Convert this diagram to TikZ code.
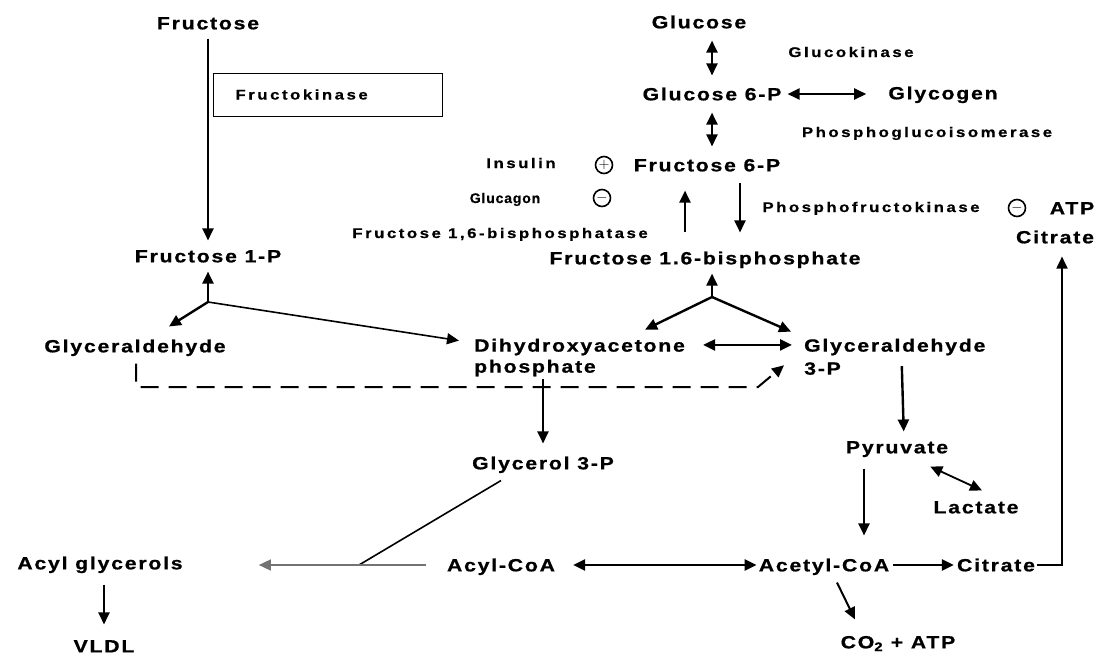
\documentclass[tikz,border=0pt]{standalone}
\usepackage{fontspec}
\usetikzlibrary{arrows.meta,calc}
\newfontfamily\lblfont{Liberation Sans}[FakeStretch=1.2,LetterSpace=10,BoldFeatures={FakeBold=0.8}]
\newfontfamily\enzfont{Liberation Sans}[FakeStretch=1.2,LetterSpace=18,BoldFeatures={FakeBold=0.6}]
\newfontfamily\narrowfont{Liberation Sans}[LetterSpace=6,BoldFeatures={FakeBold=0.6}]
\tikzset{
  metab/.style={
    font=\lblfont\bfseries\fontsize{17.7}{21}\selectfont,
    inner sep=0pt,
    text height=12.7pt,
    text depth=0pt
  },
  metabpair/.style={
    font=\lblfont\bfseries\fontsize{17.7}{21}\selectfont,
    inner sep=0pt,
    align=left,
    anchor=north west
  },
  enzyme/.style={
    font=\enzfont\bfseries\fontsize{14}{16}\selectfont,
    inner sep=0pt,
    text height=10pt,
    text depth=0pt
  },
  hormone/.style={
    enzyme,
    font=\narrowfont\bfseries\fontsize{14}{16}\selectfont
  },
  effect/.style={
    shape=circle,
    draw,
    line width=1.6pt,
    minimum size=17pt,
    inner sep=0pt,
    font=\bfseries\fontsize{14}{14}\selectfont
  },
  conv/.style={
    line width=2.4pt,
    shorten <=9pt,
    shorten >=9pt,
    -{Triangle[length=12pt,width=11pt]}
  },
  rev/.style={
    line width=2.4pt,
    shorten <=12pt,
    shorten >=12pt,
    {Triangle[length=12pt,width=11pt]}-{Triangle[length=12pt,width=11pt]}
  },
  split/.style={
    conv,
    shorten <=0pt,
    shorten >=0pt
  },
  dashline/.style={
    line width=2pt,
    dash pattern=on 18pt off 10pt,
    -{Triangle[length=12pt,width=11pt]}
  }
}
\begin{document}
\begin{tikzpicture}[x=1pt,y=-1pt]
  \useasboundingbox (0,0) rectangle (1104,657);
  % metabolites
  \node[metab] (glc) at (699,22) {Glucose};
  \node[metab] (g6p) at (712,94) {Glucose 6-P};
  \node[metab] (glycogen) at (943,93) {Glycogen};
  \node[metab] (f6p) at (707,165) {Fructose 6-P};
  \node[metab] (f16bp) at (705,258) {Fructose 1.6-bisphosphate};
  \node[metabpair] (dhap) at (474,338.6) {Dihydroxyacetone\\phosphate};
  \node[metabpair] (g3p) at (804,338.6) {Glyceraldehyde\\[2pt]3-P};
  \node[metab] (gly3p) at (543,463) {Glycerol 3-P};
  \node[metab] (pyr) at (897,447) {Pyruvate};
  \node[metab] (lac) at (976,507) {Lactate};
  \node[metab] (acylcoa) at (501,565) {Acyl-CoA};
  \node[metab] (acetyl) at (824,565) {Acetyl-CoA};
  \node[metab] (citrate) at (996,565) {Citrate};
  \node[metab] (co2) at (898,642) {CO\textsubscript{2} + ATP};
  \node[metab] (acylgly) at (100,563) {Acyl glycerols};
  \node[metab] (vldl) at (104,646) {VLDL};
  \node[metab] (fru) at (208,23) {Fructose};
  \node[metab] (fru1p) at (208,256) {Fructose 1-P};
  \node[metab] (glyald) at (135,346) {Glyceraldehyde};
  \node[metab] (atp) at (1072,208) {ATP};
  \node[metab] (citrtop) at (1055,237) {Citrate};
  % enzymes and effectors
  \node[enzyme,draw,line width=1pt,anchor=west,minimum height=43pt,
        text width=185pt,inner xsep=22pt,align=left] (fruk) at (213,94.5) {Fructokinase};
  \node[enzyme] (gk) at (851,52) {Glucokinase};
  \node[enzyme] (pgi) at (927,132) {Phosphoglucoisomerase};
  \node[enzyme] (pfk) at (871,207) {Phosphofructokinase};
  \node[enzyme,anchor=east] (fbpase) at (648,233) {Fructose 1,6-bisphosphatase};
  \node[enzyme] (insulin) at (521,163) {Insulin};
  \node[hormone] (glucagon) at (505,198) {Glucagon};
  \node[effect] (plus) at (604,165) {$+$};
  \node[effect] (minus) at (602,198) {$-$};
  \node[effect] (atpminus) at (1017,208) {$-$};
  \coordinate (fj) at (712,297);
  \coordinate (fj1) at (208,302);
  \coordinate (dbend) at (758,387);
  \coordinate (gj) at (359,565);
  % glycolysis
  \draw[rev] (glc.south -| g6p) -- (g6p);
  \draw[rev] (g6p) -- (g6p |- f6p.north);
  \draw[rev,shorten <=6pt,shorten >=22pt] (g6p) -- (g6p -| glycogen.west);
  \draw[conv,shorten <=11pt,shorten >=19pt] ([xshift=33pt]f6p.south) -- ([xshift=35pt]f16bp.north);
  \draw[conv,shorten <=19pt,shorten >=19pt] ([xshift=-20pt]f16bp.north) -- ([xshift=-22pt]f6p.south);
  \draw[conv,shorten <=0pt] (fj) -- (fj |- f16bp.south);
  \draw[split] (fj) -- ([shift={(-40,-9)}]dhap.north east);
  \draw[split] (fj) -- ([shift={(-13,-7)}]g3p.north west);
  \draw[rev,shorten <=18pt] ([yshift=-6.35pt]dhap.north east) -- ([yshift=-6.35pt]g3p.north west);
  \draw[conv,shorten <=0pt] ([shift={(7,-9)}]g3p.south) -- ([xshift=7pt]pyr.north);
  \draw[conv,shorten <=15pt,shorten >=23pt] ([xshift=-33pt]pyr.south) -- ([xshift=40pt]acetyl.north);
  \draw[rev,line width=1.8pt,shorten <=0pt,shorten >=0pt] ([shift={(-18,13)}]pyr.south east) -- ([shift={(6,-10)}]lac.north);
  \draw[rev,shorten <=18pt,shorten >=2pt] (acylcoa) -- (acetyl);
  \draw[conv,shorten <=4pt,shorten >=3pt] (acetyl) -- (citrate);
  \draw[conv,line width=1.8pt,shorten <=2pt,shorten >=13pt] (citrate.east) -| ([xshift=7pt]citrtop.south);
  \draw[split,line width=2pt] ([shift={(13,11)}]acetyl.south) -- ([shift={(-43,-16)}]co2.north);
  % fructose
  \draw[conv] (fru) -- (fru1p);
  \draw[conv,shorten <=0pt] (fj1) -- (fru1p);
  \draw[split] (fj1) -- ([shift={(34,-13)}]glyald.north);
  \draw[split,line width=1.6pt] (fj1) -- ([shift={(-15,2)}]dhap.north west);
  \draw[dashline] ([shift={(1,11)}]glyald.south) |- (dbend) -- ([shift={(-20,8.5)}]g3p.west);
  % lipids
  \draw[conv,shorten <=2pt,shorten >=13pt] (dhap.south -| gly3p) -- (gly3p);
  \draw[line width=1.6pt] ([shift={(-42,11)}]gly3p.south) -- (gj);
  \draw[conv,line width=1.6pt,black!55,shorten <=21pt,shorten >=76pt] (acylcoa.west) -- (acylcoa.west -| acylgly.east);
  \draw[conv,shorten <=15pt,shorten >=15pt] (acylgly.south -| vldl) -- (vldl);
\end{tikzpicture}
\end{document}
